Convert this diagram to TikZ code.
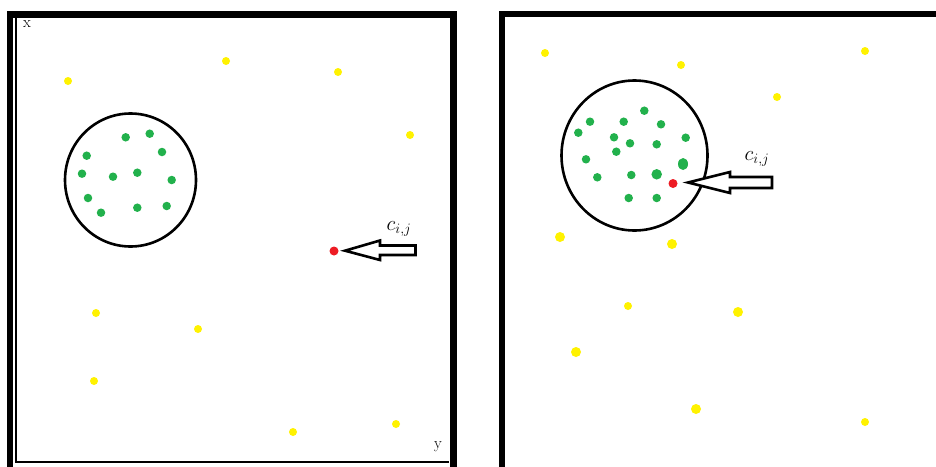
\documentclass[tikz,border=0pt]{standalone}
\usetikzlibrary{shapes.geometric}
\begin{document}
\begin{tikzpicture}[x=1pt,y=-1pt,
  frame/.style={draw=black,line width=6.5pt},
  thinframe/.style={draw=black,line width=2.8pt},
  ring/.style={draw=black,line width=2.6pt},
  gdot/.style={circle,fill=dotgreen,inner sep=0pt,minimum size=8.5pt},
  ydot/.style={circle,fill=dotyellow,inner sep=0pt,minimum size=8pt},
  rdot/.style={circle,fill=dotred,inner sep=0pt,minimum size=9pt},
  harrow/.style={draw=black,line width=2.6pt,fill=white,line join=miter},
  lbl/.style={inner sep=0pt,font=\fontsize{21}{24}\selectfont},
  axl/.style={inner sep=0pt,font=\fontsize{16}{18}\selectfont}]
\definecolor{dotgreen}{HTML}{22B14C}
\definecolor{dotyellow}{HTML}{FFF200}
\definecolor{dotred}{HTML}{ED1C24}
\useasboundingbox (0,0) rectangle (936,466);
\fill[white] (0,0) rectangle (936,466);
% left panel frame
\draw[frame] (10,470) -- (10,14.5) -- (453.5,14.5) -- (453.5,470);
\draw[thinframe] (16,18) -- (16,462) -- (449,462);
\node[axl] (xl) at (27,24) {x};
\node[axl] (yl) at (438,447) {y};
% right panel frame
\draw[frame] (502,470) -- (502,14) -- (940,14);
% circles
\draw[ring] (130.5,180) ellipse (65.5 and 66.5);
\draw[ring] (634.5,155.5) ellipse (73 and 75);
% left green dots
\foreach \n/\px/\py in {1/125.7/137.3,2/149.7/133.7,3/86.7/155.7,4/162/152,5/82/173.7,6/113/176.7,7/137.3/172.7,8/171.7/180,9/88/198,10/101/212.7,11/137.3/207.7,12/166.7/206}
  \node[gdot] (gl\n) at (\px,\py) {};
% right green dots
\foreach \n/\px/\py in {1/644.3/110.7,2/590/121.7,3/623.7/121.7,4/661/124.3,5/578.3/132.7,6/614/137.3,7/630/143.3,8/656.7/144.3,9/685.7/137.7,10/616.3/151.7,11/586/159.3,12/597.3/177.3,13/631.3/175,14/628.7/198,15/656.7/198}
  \node[gdot] (gr\n) at (\px,\py) {};
\node[ellipse,fill=dotgreen,inner sep=0pt,minimum width=10pt,minimum height=12pt] (gr16) at (683,164) {};
\node[gdot,minimum size=10.5pt] (gr17) at (656.7,174.3) {};
% yellow dots
\foreach \n/\px/\py in {1/68/81,2/226/61,3/338/72,4/410/135,5/96/313,6/198/329,7/94/381,8/293/432,9/396/424,10/545/53,11/681/65,12/865/51,13/777/97,14/628/306,15/865/422}
  \node[ydot] (y\n) at (\px,\py) {};
\foreach \n/\px/\py in {16/560/237,17/672/244,18/738/312,19/576/352,20/696/409}
  \node[ydot,minimum size=10pt] (y\n) at (\px,\py) {};
% red dots
\node[rdot] (rl) at (334,251) {};
\node[rdot] (rr) at (673,183.5) {};
% hollow arrows
\draw[harrow] (345,250.7) -- (380,240.5) -- (380,245.5) -- (415.5,245.5) -- (415.5,255) -- (380,255) -- (380,260) -- cycle;
\draw[harrow] (688,182.5) -- (730,172) -- (730,177) -- (772,177) -- (772,188) -- (730,188) -- (730,193) -- cycle;
\node[lbl] (cl) at (399,229) {$c_{i,j}$};
\node[lbl] (cr) at (757,159) {$c_{i,j}$};
\end{tikzpicture}
\end{document}
